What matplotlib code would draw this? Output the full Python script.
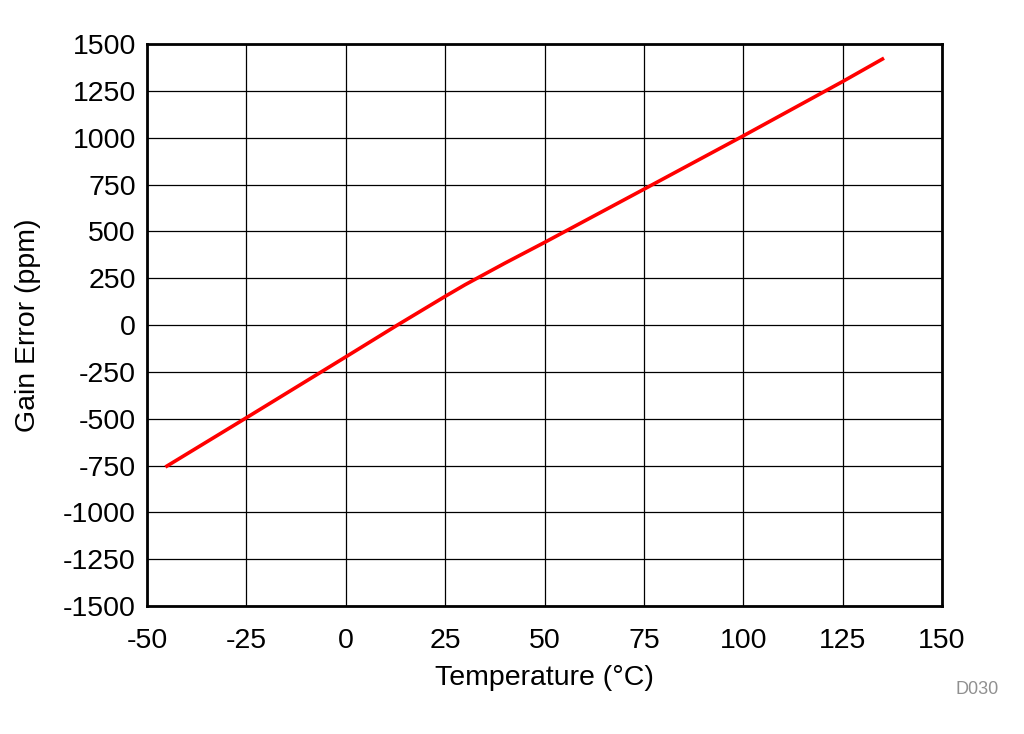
import numpy as np
import matplotlib.pyplot as plt

plt.rcParams['font.family'] = ['Liberation Sans', 'DejaVu Sans']
plt.rcParams['axes.unicode_minus'] = False

temp_c = [-45, -25, 0, 13, 25, 30, 40, 50, 75, 100, 125, 135]
gain_error_ppm = [-753, -495, -170, 0, 153, 215, 330, 441, 725, 1010, 1300, 1420]

x_ticks = [-50, -25, 0, 25, 50, 75, 100, 125, 150]
y_ticks = [-1500, -1250, -1000, -750, -500, -250, 0, 250, 500, 750, 1000, 1250, 1500]

fig = plt.figure(figsize=(10.24, 7.34), dpi=100)
ax = fig.add_axes([0.1436, 0.1744, 0.7764, 0.7656])

ax.plot(temp_c, gain_error_ppm, color='#ff0000', linewidth=2.6)

ax.set_xlim(-50, 150)
ax.set_ylim(-1500, 1500)
ax.set_xticks(x_ticks)
ax.set_yticks(y_ticks)
ax.grid(True, color='black', linewidth=0.9)
ax.set_axisbelow(True)
ax.tick_params(axis='x', length=0, labelsize=20.5, pad=16)
ax.tick_params(axis='y', length=0, labelsize=20.5, pad=8)
for s in ax.spines.values():
    s.set_linewidth(2)
    s.set_color('black')

ax.set_xlabel('Temperature (°C)', fontsize=20.5, labelpad=8)
ax.set_ylabel('Gain Error (ppm)', fontsize=20.5, labelpad=16)

fig.text(0.975, 0.061, 'D030', fontsize=13, color='#909090', ha='right', va='center')

fig.savefig('out.png', dpi=100)
